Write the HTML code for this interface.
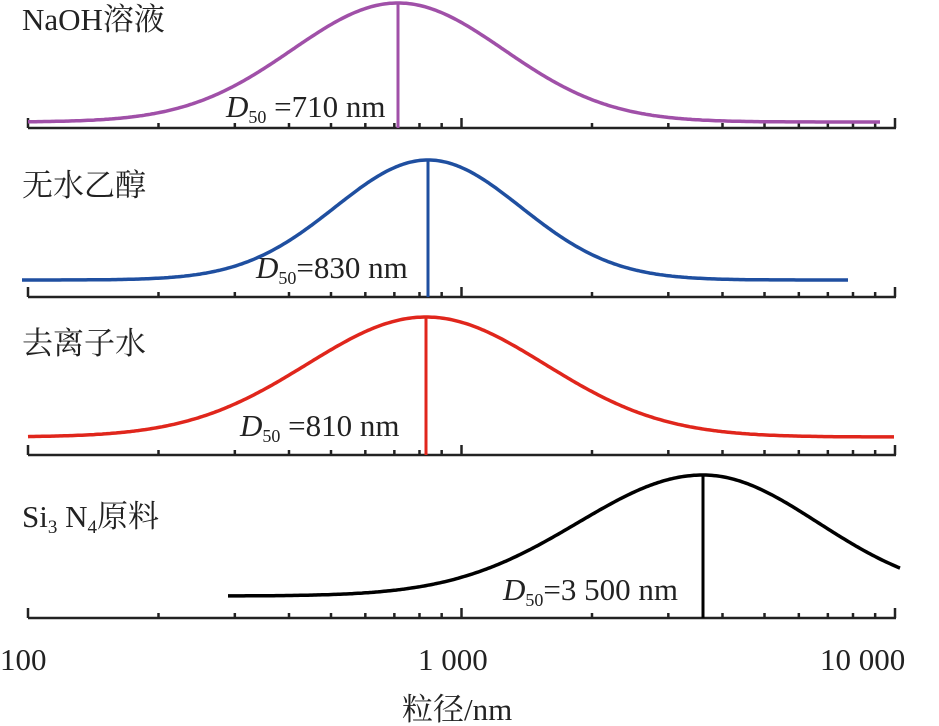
<!DOCTYPE html>
<html><head><meta charset="utf-8"><style>
html,body{margin:0;padding:0;background:#fff;width:939px;height:726px;overflow:hidden}
text{font-family:"Liberation Serif","Noto Serif CJK SC",serif;fill:#222}
</style></head><body>
<svg id="s" width="939" height="726" viewBox="0 0 939 726" xmlns="http://www.w3.org/2000/svg">
<g font-size="31">
<text x="22" y="30">NaOH溶液</text>
<text x="22" y="196">无水乙醇</text>
<text x="22" y="354">去离子水</text>
<text x="22" y="527">Si<tspan font-size="19" dy="6">3</tspan><tspan dy="-6"> N</tspan><tspan font-size="19" dy="6">4</tspan><tspan dy="-6">原料</tspan></text>
<text x="0" y="670">100</text>
<text x="418" y="670">1 000</text>
<text x="820" y="670">10 000</text>
<text x="402" y="720">粒径/nm</text>
<text x="226" y="117"><tspan font-style="italic">D</tspan><tspan font-size="18" dy="6">50</tspan><tspan dy="-6"> =710 nm</tspan></text>
<text x="256" y="278"><tspan font-style="italic">D</tspan><tspan font-size="18" dy="6">50</tspan><tspan dy="-6">=830 nm</tspan></text>
<text x="240" y="436"><tspan font-style="italic">D</tspan><tspan font-size="18" dy="6">50</tspan><tspan dy="-6"> =810 nm</tspan></text>
<text x="503" y="600"><tspan font-style="italic">D</tspan><tspan font-size="18" dy="6">50</tspan><tspan dy="-6">=3 500 nm</tspan></text>
</g>
</svg>
<script>
var s=document.getElementById('s'),NS='http://www.w3.org/2000/svg';
function el(t,a){var e=document.createElementNS(NS,t);for(var k in a)e.setAttribute(k,a[k]);s.appendChild(e);}
var X=function(v){return 28+433.5*Math.log10(v/100);};
[128,297,455,618].forEach(function(y){
 el('line',{x1:28,x2:896,y1:y,y2:y,stroke:'#222','stroke-width':2.5});
 for(var d=100;d<=10000;d*=10){for(var m=1;m<10;m++){var v=d*m;if(v>10000)break;var x=X(v);
  el('line',{x1:x,x2:x,y1:y,y2:y-(m==1?10:5),stroke:'#222','stroke-width':2.5});}}
});
var C=[
 {c:'#a050a8',x0:28,x1:880,pk:398,top:3,base:122,ax:128,sl:106,sr:106},
 {c:'#1f4fa0',x0:22,x1:848,pk:428,top:160,base:280,ax:297,sl:93,sr:93},
 {c:'#e0261c',x0:28,x1:895,pk:426,top:317,base:437,ax:455,sl:119,sr:119},
 {c:'#000',x0:228,x1:900,pk:703,top:475,base:596,ax:618,sl:125,sr:115}
];
C.forEach(function(c){var d='';for(var x=c.x0;x<=c.x1;x+=2){var sg=x<c.pk?c.sl:c.sr;var y=c.base-(c.base-c.top)*Math.exp(-Math.pow(x-c.pk,2)/(2*sg*sg));d+=(d?'L':'M')+x+' '+y.toFixed(1);}
 el('path',{d:d,fill:'none',stroke:c.c,'stroke-width':3.5});
 el('line',{x1:c.pk,x2:c.pk,y1:c.top,y2:c.ax,stroke:c.c,'stroke-width':3});});
</script>
</body></html>
